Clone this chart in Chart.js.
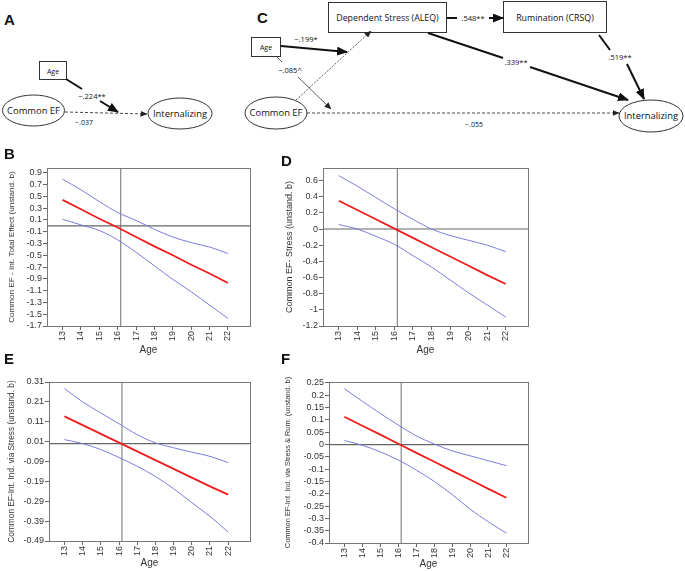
<!DOCTYPE html>
<html>
<head>
<meta charset="utf-8">
<script src="https://cdn.jsdelivr.net/npm/chart.js@4.4.1/dist/chart.umd.min.js"></script>
<style>
  body { margin: 0; background: #fff; }
  #page { position: relative; width: 685px; height: 571px; overflow: hidden; }
  canvas { position: absolute; }
  .tag { position: absolute; font: bold 15px "Liberation Sans", Arial, sans-serif; color: #111; }
  svg text { font-family: "Open Sans", "DejaVu Sans", sans-serif; fill: #111; }
</style>
</head>
<body>
<div id="page">
  <svg width="685" height="140" style="position:absolute;left:0;top:0">
    <defs>
      <marker id="big" markerUnits="userSpaceOnUse" markerWidth="11" markerHeight="9" refX="10" refY="4.5" orient="auto">
        <path d="M0,0 L11,4.5 L0,9 z" fill="#111"/>
      </marker>
      <marker id="small" markerUnits="userSpaceOnUse" markerWidth="7" markerHeight="6" refX="6.5" refY="3" orient="auto">
        <path d="M0,0 L7,3 L0,6 z" fill="#222"/>
      </marker>
    </defs>

    <!-- A -->
    <text x="4" y="25" style="font:bold 15px 'Liberation Sans',Arial;fill:#111">A</text>
    <rect x="39.5" y="61.5" width="27" height="18" fill="#fff" stroke="#333"/>
    <text x="53" y="73.5" font-size="7" text-anchor="middle">Age</text>
    <ellipse cx="33.5" cy="110.5" rx="31" ry="15.5" fill="#fff" stroke="#333"/>
    <text x="33.5" y="113.8" font-size="9.4" text-anchor="middle">Common EF</text>
    <ellipse cx="180" cy="113.5" rx="32" ry="15.5" fill="#fff" stroke="#333"/>
    <text x="180" y="116.8" font-size="9.4" text-anchor="middle">Internalizing</text>
    <line x1="65" y1="112" x2="147" y2="114" stroke="#333" stroke-width="0.9" stroke-dasharray="3,2" marker-end="url(#small)"/>
    <line x1="66" y1="79" x2="82" y2="89" stroke="#111" stroke-width="2"/>
    <line x1="100" y1="101" x2="118" y2="112" stroke="#111" stroke-width="2" marker-end="url(#big)"/>
    <text x="92" y="99" font-size="7.5" text-anchor="middle">−.224**</text>
    <text x="84" y="125" font-size="7" text-anchor="middle">−.037</text>

    <!-- C -->
    <text x="257" y="23" style="font:bold 15px 'Liberation Sans',Arial;fill:#111">C</text>
    <rect x="328.5" y="2.5" width="118" height="30" fill="#fff" stroke="#333"/>
    <text x="387.5" y="20.5" font-size="8.8" text-anchor="middle">Dependent Stress (ALEQ)</text>
    <rect x="503.5" y="1.5" width="103" height="31" fill="#fff" stroke="#333"/>
    <text x="555" y="20.5" font-size="8.8" text-anchor="middle">Rumination (CRSQ)</text>
    <line x1="447" y1="18" x2="457" y2="18" stroke="#111" stroke-width="2"/>
    <line x1="489" y1="18" x2="503" y2="18" stroke="#111" stroke-width="2" marker-end="url(#big)"/>
    <text x="473" y="20.5" font-size="7.5" text-anchor="middle">.548**</text>

    <rect x="251.5" y="37.5" width="29" height="19" fill="#fff" stroke="#333"/>
    <text x="266" y="49.5" font-size="7" text-anchor="middle">Age</text>
    <line x1="281" y1="46" x2="347" y2="52" stroke="#111" stroke-width="2" marker-end="url(#big)"/>
    <text x="306" y="42" font-size="7.5" text-anchor="middle">−.199*</text>

    <line x1="296" y1="100" x2="371" y2="31" stroke="#333" stroke-width="0.8" stroke-dasharray="2,1.5" marker-end="url(#small)"/>
    <line x1="277" y1="57" x2="282" y2="62" stroke="#333" stroke-width="0.8"/>
    <line x1="298" y1="77" x2="331" y2="109" stroke="#333" stroke-width="0.8" marker-end="url(#small)"/>
    <text x="290" y="72.5" font-size="7.5" text-anchor="middle">−.085^</text>

    <line x1="428" y1="33" x2="503" y2="58" stroke="#111" stroke-width="2"/>
    <line x1="530" y1="67" x2="628" y2="100" stroke="#111" stroke-width="2" marker-end="url(#big)"/>
    <text x="516" y="65" font-size="7.5" text-anchor="middle">.339**</text>
    <line x1="599" y1="35" x2="610" y2="50" stroke="#111" stroke-width="2"/>
    <line x1="627" y1="64" x2="644" y2="99" stroke="#111" stroke-width="2" marker-end="url(#big)"/>
    <text x="620" y="59.5" font-size="7.5" text-anchor="middle">.519**</text>

    <ellipse cx="276" cy="113" rx="31" ry="16" fill="#fff" stroke="#333"/>
    <text x="276" y="116.3" font-size="9.4" text-anchor="middle">Common EF</text>
    <ellipse cx="651" cy="116" rx="32" ry="16" fill="#fff" stroke="#333"/>
    <text x="651" y="119.3" font-size="9.4" text-anchor="middle">Internalizing</text>
    <line x1="307" y1="113" x2="619" y2="113" stroke="#333" stroke-width="0.9" stroke-dasharray="3,2" marker-end="url(#small)"/>
    <text x="474" y="127" font-size="7" text-anchor="middle">−.055</text>
  </svg>

  <canvas id="chartB" width="265" height="218" style="left:0;top:140px"></canvas>
  <canvas id="chartD" width="270" height="218" style="left:275px;top:140px"></canvas>
  <canvas id="chartE" width="265" height="215" style="left:0;top:355px"></canvas>
  <canvas id="chartF" width="270" height="216" style="left:275px;top:355px"></canvas>

  <div class="tag" style="left:4px;top:145px">B</div>
  <div class="tag" style="left:281px;top:152px">D</div>
  <div class="tag" style="left:4px;top:350px">E</div>
  <div class="tag" style="left:281px;top:350px">F</div>
</div>

<script>
const ages = [13, 14, 15, 16, 17, 18, 19, 20, 21, 22]
const crossAge = 16.16

// B: total effect
const bEst = [0.44, 0.28, 0.12, -0.03, -0.19, -0.35, -0.50, -0.66, -0.81, -0.97]
const bUpper = [0.79, 0.61, 0.41, 0.225, 0.09, -0.06, -0.19, -0.285, -0.36, -0.47]
const bLower = [0.11, 0.015, -0.08, -0.24, -0.45, -0.68, -0.91, -1.12, -1.345, -1.57]
const bTicks = [0.9, 0.7, 0.5, 0.3, 0.1, -0.1, -0.3, -0.5, -0.7, -0.9, -1.1, -1.3, -1.5, -1.7]

// D: stress path
const dEst = [0.35, 0.235, 0.12, 0.005, -0.11, -0.225, -0.34, -0.455, -0.57, -0.68]
const dUpper = [0.66, 0.53, 0.39, 0.25, 0.12, 0.0, -0.08, -0.14, -0.20, -0.28]
const dLower = [0.056, 0.0, -0.09, -0.19, -0.33, -0.47, -0.63, -0.79, -0.94, -1.09]
const dTicks = [0.6, 0.4, 0.2, 0, -0.2, -0.4, -0.6, -0.8, -1, -1.2]

// E: indirect via stress
const eEst = [0.137, 0.093, 0.049, 0.005, -0.039, -0.083, -0.127, -0.171, -0.215, -0.257]
const eUpper = [0.277, 0.21, 0.154, 0.10, 0.045, 0.004, -0.021, -0.043, -0.064, -0.096]
const eLower = [0.02, 0.0, -0.03, -0.07, -0.114, -0.165, -0.227, -0.297, -0.366, -0.445]
const eTicks = [0.31, 0.21, 0.11, 0.01, -0.09, -0.19, -0.29, -0.39, -0.49]

// F: indirect via stress & rumination
const fEst = [0.113, 0.076, 0.04, 0.003, -0.034, -0.07, -0.107, -0.143, -0.18, -0.216]
const fUpper = [0.227, 0.176, 0.126, 0.079, 0.035, 0.002, -0.026, -0.046, -0.066, -0.086]
const fLower = [0.016, -0.003, -0.03, -0.063, -0.104, -0.15, -0.204, -0.263, -0.314, -0.36]
const fTicks = [0.25, 0.2, 0.15, 0.1, 0.05, 0, -0.05, -0.1, -0.15, -0.2, -0.25, -0.3, -0.35, -0.4]

const fontFamily = '"Liberation Sans", Arial, sans-serif'
const tickFont = { family: fontFamily, size: 9 }

// box round the plot and the two reference lines
const framePlugin = {
  id: 'frame',
  beforeDatasetsDraw (chart) {
    const { ctx, chartArea: a, scales: { x, y } } = chart
    const px = x.getPixelForValue(crossAge)
    const py = y.getPixelForValue(0)
    ctx.save()
    ctx.lineWidth = 1.2
    ctx.strokeStyle = '#888'
    ctx.beginPath()
    ctx.moveTo(px, a.top); ctx.lineTo(px, a.bottom)
    ctx.stroke()
    ctx.strokeStyle = '#666'
    ctx.beginPath()
    ctx.moveTo(a.left, py); ctx.lineTo(a.right, py)
    ctx.stroke()
    ctx.restore()
  },
  afterDraw (chart) {
    const { ctx, chartArea: a } = chart
    ctx.save()
    ctx.strokeStyle = '#777'
    ctx.lineWidth = 1
    ctx.strokeRect(a.left + 0.5, a.top + 0.5, a.right - a.left, a.bottom - a.top)
    ctx.restore()
  }
}

function pts (vals) {
  return vals.map((v, i) => ({ x: ages[i], y: v }))
}

function bandChart (id, p) {
  const ctx = document.getElementById(id).getContext('2d')
  return new Chart(ctx, {
    type: 'line',
    data: {
      datasets: [
        { data: pts(p.upper), borderColor: '#7b7be0', borderWidth: 1, tension: 0.35 },
        { data: pts(p.est), borderColor: '#ee1c1c', borderWidth: 1.8, tension: 0 },
        { data: pts(p.lower), borderColor: '#7b7be0', borderWidth: 1, tension: 0.35 }
      ]
    },
    options: {
      responsive: false,
      animation: false,
      events: [],
      layout: { padding: { top: p.top, right: p.right, left: 0, bottom: 0 } },
      elements: { point: { radius: 0 } },
      plugins: { legend: { display: false }, tooltip: { enabled: false } },
      scales: {
        x: {
          type: 'linear',
          min: 12.15,
          max: 23.2,
          afterBuildTicks: (s) => { s.ticks = ages.map(v => ({ value: v })) },
          afterFit: (s) => { s.height = p.xh },
          ticks: { font: tickFont, color: '#333', autoSkip: false, minRotation: 90, maxRotation: 90, padding: 1, callback: v => String(v) },
          grid: { drawOnChartArea: false, tickLength: 4, color: '#666' },
          border: { color: '#777' },
          title: { display: true, text: 'Age', font: { family: fontFamily, size: 10 }, color: '#333', padding: { top: 0, bottom: p.agePad } }
        },
        y: {
          min: p.min,
          max: p.max,
          afterBuildTicks: (s) => { s.ticks = p.ticks.map(v => ({ value: v })) },
          afterFit: (s) => { s.width = p.yw },
          ticks: { font: tickFont, color: '#333', autoSkip: false, padding: 1, callback: v => String(v) },
          grid: { drawOnChartArea: false, tickLength: 4, color: '#666' },
          border: { color: '#777' },
          title: { display: true, text: p.title, font: { family: fontFamily, size: p.titleSize }, color: '#333', padding: { top: p.titlePad, bottom: 0 } }
        }
      }
    },
    plugins: [framePlugin]
  })
}

bandChart('chartB', {
  est: bEst, upper: bUpper, lower: bLower, ticks: bTicks, min: -1.7, max: 0.98,
  title: 'Common EF - Int. Total Effect (unstand. b)', titleSize: 8.1,
  top: 28, right: 15, yw: 47, xh: 32, titlePad: 7, agePad: 2
})
bandChart('chartD', {
  est: dEst, upper: dUpper, lower: dLower, ticks: dTicks, min: -1.2, max: 0.755,
  title: 'Common EF- Stress (unstand. b)', titleSize: 9,
  top: 28, right: 17, yw: 48, xh: 32, titlePad: 9, agePad: 2
})
bandChart('chartE', {
  est: eEst, upper: eUpper, lower: eLower, ticks: eTicks, min: -0.49, max: 0.31,
  title: 'Common EF-Int. Ind. via Stress (unstand. b)', titleSize: 8.3,
  top: 27, right: 15, yw: 49, xh: 29, titlePad: 7, agePad: 1
})
bandChart('chartF', {
  est: fEst, upper: fUpper, lower: fLower, ticks: fTicks, min: -0.4, max: 0.254,
  title: 'Common EF-Int. Ind. via Stress & Rum. (unstand. b)', titleSize: 7.4,
  top: 27, right: 17, yw: 54, xh: 28, titlePad: 9, agePad: 1
})
</script>
</body>
</html>
